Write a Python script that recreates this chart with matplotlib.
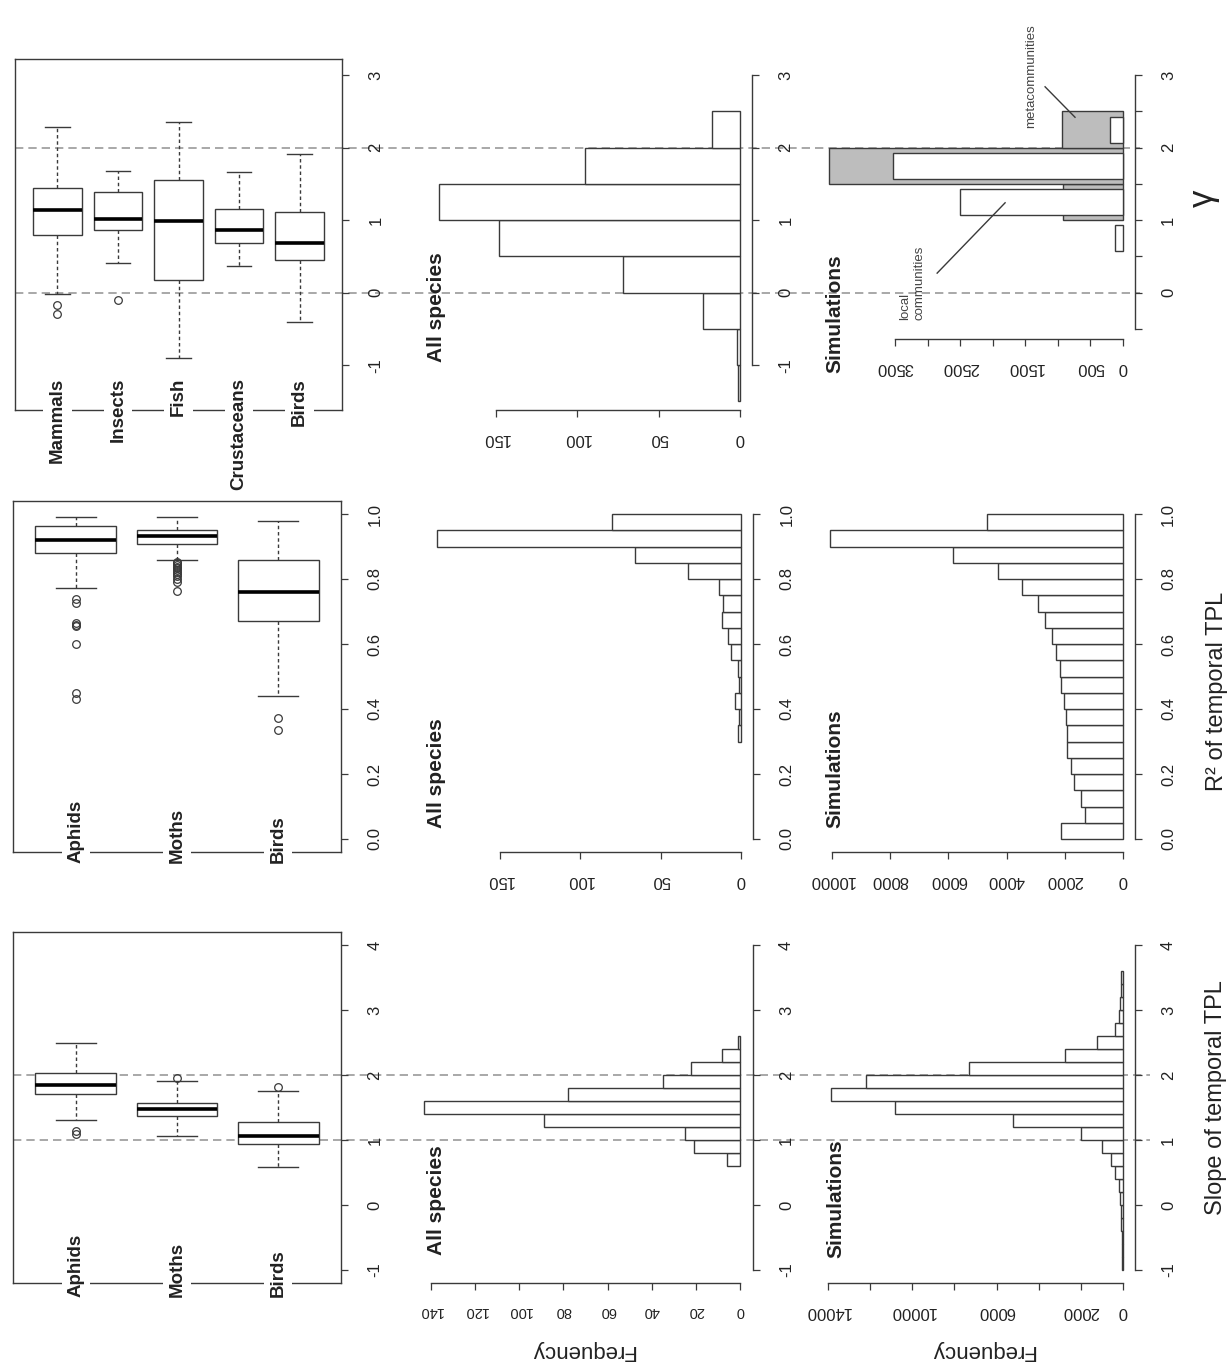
import numpy as np
import matplotlib
matplotlib.use("Agg")
import matplotlib.pyplot as plt
from matplotlib import transforms
from matplotlib.lines import Line2D

plt.rcParams['font.family'] = ['Liberation Sans', 'DejaVu Sans']
plt.rcParams['axes.unicode_minus'] = False

# ---- Datos: pendiente del TPL temporal ----
grupos3 = ['Aphids', 'Moths', 'Birds']
slope_whislo = [1.31, 1.06, 0.59]
slope_q1 = [1.71, 1.37, 0.94]
slope_med = [1.85, 1.48, 1.06]
slope_q3 = [2.03, 1.57, 1.27]
slope_whishi = [2.49, 1.91, 1.76]
slope_fliers = [[1.14, 1.10], [1.96], [1.82]]

slope_all_edges = [0.6, 0.8, 1.0, 1.2, 1.4, 1.6, 1.8, 2.0, 2.2, 2.4, 2.6]
slope_all_counts = [6, 21, 25, 89, 143, 78, 35, 22, 8, 1]

slope_sim_edges = [-1.0, -0.8, -0.6, -0.4, -0.2, 0.0, 0.2, 0.4, 0.6, 0.8, 1.0, 1.2,
                   1.4, 1.6, 1.8, 2.0, 2.2, 2.4, 2.6, 2.8, 3.0, 3.2, 3.4, 3.6]
slope_sim_counts = [32, 47, 63, 79, 95, 127, 206, 364, 585, 981, 2009, 5220,
                    10840, 13870, 12210, 7320, 2737, 1234, 395, 190, 125, 110, 80]

# ---- Datos: R^2 del TPL temporal ----
r2_whislo = [0.771, 0.859, 0.441]
r2_q1 = [0.880, 0.909, 0.670]
r2_med = [0.919, 0.933, 0.760]
r2_q3 = [0.962, 0.950, 0.857]
r2_whishi = [0.991, 0.990, 0.977]
r2_fliers = [[0.74, 0.725, 0.665, 0.66, 0.655, 0.60, 0.45, 0.43],
             [0.852, 0.848, 0.843, 0.838, 0.833, 0.828, 0.822, 0.815, 0.808, 0.80, 0.792, 0.762],
             [0.372, 0.336]]

r2_all_edges = [0.30, 0.35, 0.40, 0.45, 0.50, 0.55, 0.60, 0.65, 0.70, 0.75, 0.80,
                0.85, 0.90, 0.95, 1.00]
r2_all_counts = [2, 1, 4, 1, 2, 6, 8, 12, 11, 14, 33, 66, 189, 80]

r2_sim_edges = [0.00, 0.05, 0.10, 0.15, 0.20, 0.25, 0.30, 0.35, 0.40, 0.45, 0.50,
                0.55, 0.60, 0.65, 0.70, 0.75, 0.80, 0.85, 0.90, 0.95, 1.00]
r2_sim_counts = [2137, 1314, 1429, 1691, 1771, 1909, 1920, 1966, 2023, 2114, 2171,
                 2309, 2457, 2686, 2937, 3463, 4309, 5851, 10057, 4686]

# ---- Datos: gamma ----
grupos5 = ['Mammals', 'Insects', 'Fish', 'Crustaceans', 'Birds']
gamma_whislo = [-0.02, 0.41, -0.90, 0.37, -0.41]
gamma_q1 = [0.80, 0.86, 0.17, 0.69, 0.45]
gamma_med = [1.14, 1.01, 0.99, 0.87, 0.69]
gamma_q3 = [1.45, 1.39, 1.56, 1.16, 1.11]
gamma_whishi = [2.28, 1.68, 2.36, 1.66, 1.92]
gamma_fliers = [[-0.17, -0.30], [-0.10], [], [], []]

gamma_all_edges = [-1.5, -1.0, -0.5, 0.0, 0.5, 1.0, 1.5, 2.0, 2.5]
gamma_all_counts = [1, 2, 23, 72, 148, 185, 95, 17]

gamma_meta_edges = [1.0, 1.5, 2.0, 2.5]
gamma_meta_counts = [920, 4522, 930]
gamma_local_mid = [0.75, 1.25, 1.75, 2.25]
gamma_local_counts = [128, 2504, 3536, 204]

# ---- Ticks ----
slope_ticks = [-1, 0, 1, 2, 3, 4]
r2_ticks = [0.0, 0.2, 0.4, 0.6, 0.8, 1.0]
r2_labels = ['0.0', '0.2', '0.4', '0.6', '0.8', '1.0']
gamma_ticks = [-1, 0, 1, 2, 3]
gamma_sim_ticks = [-0.5, 0, 0.5, 1, 1.5, 2, 2.5, 3]
gamma_sim_labels = ['', '0', '', '1', '', '2', '', '3']

slope_all_fticks = [0, 20, 40, 60, 80, 100, 120, 140]
slope_sim_fticks = [0, 2000, 4000, 6000, 8000, 10000, 12000, 14000]
slope_sim_flabels = ['0', '2000', '', '6000', '', '10000', '', '14000']
r2_all_fticks = [0, 50, 100, 150]
r2_sim_fticks = [0, 2000, 4000, 6000, 8000, 10000]
gamma_all_fticks = [0, 50, 100, 150]
gamma_sim_fticks = [0, 500, 1000, 1500, 2000, 2500, 3000, 3500]
gamma_sim_flabels = ['0', '500', '', '1500', '', '2500', '', '3500']

# ---- Figura ----
W, H = 1231, 1365
fig = plt.figure(figsize=(W / 100, H / 100), dpi=100)

EDGE = '#3a3a3a'
TXT = '#222222'
DASH = '#9a9a9a'

# fila -> (pixel del valor 0, pixeles por unidad) en vertical
FILA = {'slope': (1205, 65), 'r2': (839, 325), 'gamma': (292.7, 72.5)}


def ybox(fila, vlim):
    a, b = FILA[fila]
    return a - b * vlim[1], a - b * vlim[0]


def add_ax(x0, x1, y0, y1):
    return fig.add_axes([x0 / W, 1 - y1 / H, (x1 - x0) / W, (y1 - y0) / H])


def eje_valor(ax, ticks, labels, size=12):
    ax.yaxis.tick_right()
    ax.set_yticks(ticks, labels if labels else [str(t) for t in ticks],
                  rotation=90, va='center', ha='left', fontsize=size, color=TXT)
    ax.tick_params(axis='y', direction='out', length=5, width=0.9, color=EDGE, pad=14)


def hist_panel(fila, vlim, fzero, escala, edges, counts, vticks, vlabels,
               fticks, flabels, fsize=12, fill='white'):
    top = max(counts)
    fl = (-0.04 * top, 1.04 * top)
    y0, y1 = ybox(fila, vlim)
    ax = add_ax(fzero - escala * fl[1], fzero - escala * fl[0], y0, y1)
    ax.patch.set_visible(False)
    ax.barh(edges[:-1], counts, height=np.diff(edges), align='edge',
            color=fill, edgecolor=EDGE, linewidth=1)
    ax.set_xlim(fl[1], fl[0])
    ax.set_ylim(vlim)
    for s in ['top', 'left']:
        ax.spines[s].set_visible(False)
    for s in ['bottom', 'right']:
        ax.spines[s].set_color(EDGE)
        ax.spines[s].set_linewidth(1)
    ax.spines['right'].set_bounds(vticks[0], vticks[-1])
    ax.spines['bottom'].set_bounds(fticks[0], fticks[-1])
    eje_valor(ax, vticks, vlabels)
    ax.set_xticks(fticks, flabels if flabels else [str(t) for t in fticks],
                  rotation=180, ha='center', va='top', fontsize=fsize, color=TXT)
    ax.tick_params(axis='x', direction='out', length=5, width=0.9, color=EDGE, pad=10)
    return ax


def box_panel(fila, vlim, x0, x1, grupos, whislo, q1, med, q3, whishi, fliers,
              vticks, vlabels, lab_y, lab_va):
    y0, y1 = ybox(fila, vlim)
    ax = add_ax(x0, x1, y0, y1)
    ax.patch.set_visible(False)
    n = len(grupos)
    stats = [dict(whislo=whislo[i], q1=q1[i], med=med[i], q3=q3[i],
                  whishi=whishi[i], fliers=fliers[i]) for i in range(n)]
    ax.bxp(stats, positions=list(range(1, n + 1)), widths=0.8, capwidths=0.4,
           patch_artist=True, manage_ticks=False,
           boxprops=dict(facecolor='white', edgecolor=EDGE, linewidth=1),
           medianprops=dict(color='black', linewidth=2.6, solid_capstyle='butt'),
           whiskerprops=dict(color=EDGE, linewidth=1, linestyle=(0, (2.5, 2))),
           capprops=dict(color=EDGE, linewidth=1),
           flierprops=dict(marker='o', markerfacecolor='none', markeredgecolor=EDGE,
                           markersize=5.5, markeredgewidth=0.9))
    ext = 0.04 * n
    ax.set_xlim(0.5 - ext, n + 0.5 + ext)
    ax.set_ylim(vlim)
    ax.set_xticks([])
    for s in ax.spines.values():
        s.set_color(EDGE)
        s.set_linewidth(1)
    eje_valor(ax, vticks, vlabels)
    tr = transforms.blended_transform_factory(ax.transData, fig.transFigure)
    for i, g in enumerate(grupos):
        ax.text(i + 1, 1 - lab_y / H, g, transform=tr, rotation=90, ha='center',
                va=lab_va, fontsize=13.5, fontweight='bold', color=TXT, clip_on=False,
                zorder=5, bbox=dict(boxstyle='square,pad=0.3', fc='white', ec='none'))
    return ax


def linea_discontinua(ax, v, x0, x1):
    tr = transforms.blended_transform_factory(fig.transFigure, ax.transData)
    fig.add_artist(Line2D([x0 / W, x1 / W], [v, v], transform=tr, color=DASH,
                          linewidth=1.2, linestyle=(0, (5, 3)), zorder=-1))


def ftext(x, y, s, **kw):
    fig.text(x / W, 1 - y / H, s, **kw)


# ---- Fila inferior: pendiente ----
vl = (-1.2, 4.2)
bx = box_panel('slope', vl, 13, 341, grupos3, slope_whislo, slope_q1, slope_med,
               slope_q3, slope_whishi, slope_fliers, slope_ticks, None, 1297, 'bottom')
hist_panel('slope', vl, 740, 2.207, slope_all_edges, slope_all_counts,
           slope_ticks, None, slope_all_fticks, None, fsize=10.5)
hist_panel('slope', vl, 1123, 0.021071, slope_sim_edges, slope_sim_counts,
           slope_ticks, None, slope_sim_fticks, slope_sim_flabels)
for v in [1, 2]:
    linea_discontinua(bx, v, 13, 1150)

# ---- Fila media: R^2 ----
vl = (-0.04, 1.04)
box_panel('r2', vl, 13, 341, grupos3, r2_whislo, r2_q1, r2_med, r2_q3, r2_whishi,
          r2_fliers, r2_ticks, r2_labels, 863, 'bottom')
hist_panel('r2', vl, 741, 1.607, r2_all_edges, r2_all_counts,
           r2_ticks, r2_labels, r2_all_fticks, None)
hist_panel('r2', vl, 1123, 0.0291, r2_sim_edges, r2_sim_counts,
           r2_ticks, r2_labels, r2_sim_fticks, None)

# ---- Fila superior: gamma ----
vl = (-1.62, 3.22)
gx = box_panel('gamma', vl, 15, 342, grupos5, gamma_whislo, gamma_q1, gamma_med,
               gamma_q3, gamma_whishi, gamma_fliers, gamma_ticks, None, 378, 'top')
hist_panel('gamma', vl, 740, 1.627, gamma_all_edges, gamma_all_counts,
           gamma_ticks, None, gamma_all_fticks, None)
ax = hist_panel('gamma', (-0.64, 3.14), 1123, 0.0651, gamma_meta_edges, gamma_meta_counts,
                gamma_sim_ticks, gamma_sim_labels, gamma_sim_fticks, gamma_sim_flabels,
                fill='#bdbdbd')
ax.barh(gamma_local_mid, gamma_local_counts, height=0.36, align='center',
        color='white', edgecolor=EDGE, linewidth=1)
ax.plot([2855, 1811], [0.27, 1.24], color=EDGE, linewidth=1, clip_on=False)
ax.plot([1197, 737], [2.84, 2.42], color=EDGE, linewidth=1, clip_on=False)
ax.text(3239, -0.38, 'local\ncommunities', rotation=90, ha='center', va='bottom',
        multialignment='left', fontsize=9.5, color='#444444', clip_on=False)
ax.text(1412, 2.27, 'metacommunities', rotation=90, ha='center', va='bottom',
        fontsize=9.5, color='#444444', clip_on=False)
for v in [0, 2]:
    linea_discontinua(gx, v, 15, 1140)

# ---- Textos ----
for x, y in [(437, 1255), (437, 828), (437, 362)]:
    ftext(x, y, 'All species', rotation=90, ha='center', va='bottom',
          fontsize=15, fontweight='bold', color=TXT)
for x, y in [(836, 1258), (835, 828), (835, 373)]:
    ftext(x, y, 'Simulations', rotation=90, ha='center', va='bottom',
          fontsize=15, fontweight='bold', color=TXT)
for x in [583, 983]:
    ftext(x, 1351, 'Frequency', rotation=180, ha='center', va='center',
          fontsize=16, color=TXT)
ftext(1216, 1098, 'Slope of temporal TPL', rotation=90, ha='center', va='center',
      fontsize=17, color=TXT)
ftext(1217, 691, 'R² of temporal TPL', rotation=90, ha='center', va='center',
      fontsize=17, color=TXT)
ftext(1203, 198, 'γ', rotation=90, ha='center', va='center', fontsize=25, color=TXT)

fig.savefig('out.png', dpi=100)
